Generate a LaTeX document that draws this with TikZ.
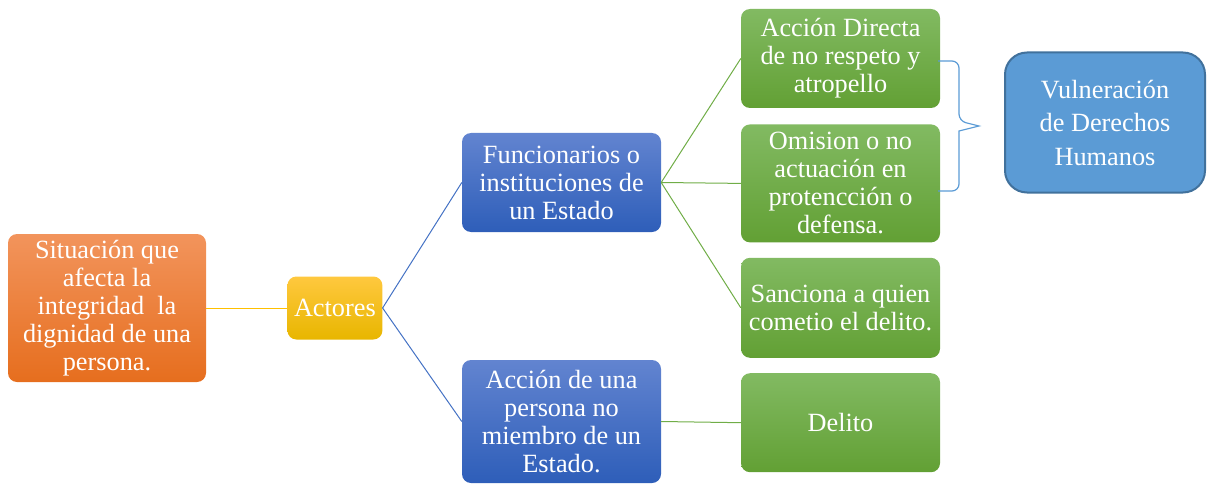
\documentclass[tikz,border=0pt]{standalone}
\usepackage{fontspec}
\setmainfont{Liberation Serif}
\usetikzlibrary{positioning}
\definecolor{OrangeTop}{RGB}{242,148,92}
\definecolor{OrangeBot}{RGB}{230,110,30}
\definecolor{GoldTop}{RGB}{255,200,62}
\definecolor{GoldBot}{RGB}{232,182,0}
\definecolor{BlueTop}{RGB}{98,132,208}
\definecolor{BlueBot}{RGB}{46,94,185}
\definecolor{GreenTop}{RGB}{130,186,98}
\definecolor{GreenBot}{RGB}{98,160,52}
\definecolor{SkyFill}{RGB}{91,155,213}
\definecolor{SkyEdge}{RGB}{65,113,156}
\definecolor{LineGold}{RGB}{255,192,0}
\definecolor{LineBlue}{RGB}{68,114,196}
\definecolor{LineGreen}{RGB}{112,173,71}

\begin{document}
\begin{tikzpicture}[x=1pt, y=-1pt, node distance=15pt,
    every node/.style={font=\fontsize{26.3}{28}\selectfont, text=white, align=center, inner sep=2pt},
    box/.style={rounded corners=9pt, minimum width=199pt},
    orangebox/.style={box, top color=OrangeTop, bottom color=OrangeBot},
    goldbox/.style={box, top color=GoldTop, bottom color=GoldBot},
    bluebox/.style={box, top color=BlueTop, bottom color=BlueBot},
    greenbox/.style={box, top color=GreenTop, bottom color=GreenBot},
    skybox/.style={rounded corners=22pt, fill=SkyFill, draw=SkyEdge, line width=2pt}]
    \useasboundingbox (0,0) rectangle (1207,484);
    % Left side
    \node[orangebox, minimum width=198pt, minimum height=148pt] (sit) at (107,308) {Situación que\\ afecta la\\ integridad\ \ la\\ dignidad de una\\ persona.};
    \node[goldbox, minimum width=95pt, minimum height=63pt, right=81pt of sit] (act) {Actores};
    \node[bluebox, minimum height=99pt] (func) at (561.5,182.5) {Funcionarios o\\ instituciones de\\ un Estado};
    \node[bluebox, minimum height=123pt] (pers) at (561.5,421.5) {Acción de una\\ persona no\\ miembro de un\\ Estado.};
    % Right column
    \node[greenbox, minimum height=99pt] (directa) at (840.5,58.5) {Acción Directa\\ de no respeto y\\ atropello};
    \node[greenbox, minimum height=118pt, below=16pt of directa] (omision) {Omision o no\\ actuación en\\ protencción o\\ defensa.};
    \node[greenbox, minimum height=100pt, below=15pt of omision] (sanciona) {Sanciona a quien\\ cometio el delito.};
    \node[greenbox, minimum height=99pt, below=15pt of sanciona] (delito) {Delito};
    \node[skybox, minimum width=200pt, minimum height=140pt, font=\fontsize{26.3}{33.5}\selectfont] (vuln) at (1105,122.5) {Vulneración\\ de Derechos\\ Humanos};
    % Connectors
    \draw[LineGold, line width=1pt] (sit) -- (act);
    \draw[LineBlue, line width=1pt] (act.east) -- (func.west);
    \draw[LineBlue, line width=1pt] (act.east) -- (pers.west);
    \draw[LineGreen, line width=1pt] (func.east) -- (directa.west);
    \draw[LineGreen, line width=1pt] (func.east) -- (omision.west);
    \draw[LineGreen, line width=1pt] (func.east) -- (sanciona.west);
    \draw[LineGreen, line width=1pt] (pers.east) -- (delito.west);
    % Brace
    \coordinate (btop) at (938,61);
    \coordinate (bbot) at (938,191);
    \coordinate (btip) at (979,126);
    \draw[SkyFill, line width=1.2pt] (btop) [rounded corners=7pt] -- (959,61) -- (959,121) [sharp corners] -- (btip) -- (959,131) [rounded corners=7pt] -- (959,191) -- (bbot);
\end{tikzpicture}
\end{document}
